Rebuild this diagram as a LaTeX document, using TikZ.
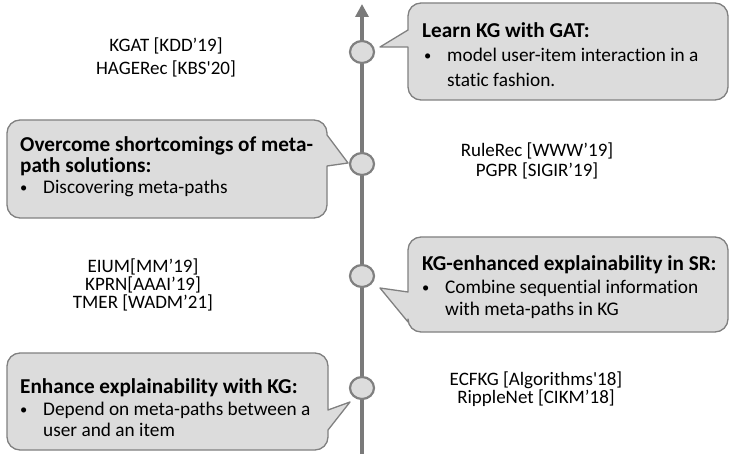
\documentclass[tikz,border=0pt]{standalone}
\usepackage{fontspec}
\setmainfont{Carlito}[Ligatures={NoCommon}]
\usetikzlibrary{arrows.meta,shapes.geometric}
\definecolor{boxfill}{HTML}{DCDCDC}
\definecolor{boxline}{HTML}{808080}
\definecolor{axisgray}{HTML}{7A7A7A}
\tikzset{
  callout/.style={draw=boxline, fill=boxfill, line width=1.3pt, line join=round},
  txt/.style={inner sep=0pt, font=\fontsize{19.3}{22}\selectfont},
  lft/.style={txt, anchor=base west},
  ctr/.style={inner sep=0pt, anchor=base, font=\fontsize{19}{22}\selectfont},
  ttl/.style={lft, font=\fontsize{21.2}{22}\selectfont\bfseries},
  dot/.style={ellipse, draw=boxline, fill=boxfill, line width=2.2pt, minimum width=24pt, minimum height=22pt, inner sep=0pt},
}
\newcommand{\bul}{\makebox[23pt][l]{\raisebox{1pt}{\scalebox{0.75}{\textbullet}}}}
\begin{document}
\begin{tikzpicture}[x=1pt,y=-1pt]
\useasboundingbox (0,0) rectangle (730,454);
% axis
\coordinate (abot) at (362,456);
\coordinate (atop) at (362,4);
\draw[axisgray, line width=3.6pt, -{Triangle[width=13pt,length=13pt]}] (abot) -- (atop);
% circles
\node[dot] (c1) at (362,52) {};
\node[dot] (c2) at (362,164) {};
\node[dot] (c3) at (362,276) {};
\node[dot] (c4) at (362,388) {};

% callout 1
\draw[callout] (408,47) [rounded corners=13pt] -- (408,100) -- (728,100) -- (728,3) -- (408,3) [sharp corners] -- (408,30) -- (380,47) -- cycle;
\node[ttl] (t1) at (422,38) {Learn KG with GAT:};
\node[lft] (t1a) at (424,62) {\bul model user-item interaction in a};
\node[lft] (t1b) at (447,87) {static fashion.};

% callout 2
\draw[callout] (327,166) [rounded corners=13pt] -- (327,218) -- (7,218) -- (7,120) -- (327,120) [sharp corners] -- (327,135) -- (348,163) -- cycle;
\node[ttl] (t2) at (20,152) {Overcome shortcomings of meta-};
\node[ttl] (t2b) at (20,173) {path solutions:};
\node[lft] (t2a) at (20,194) {\bul Discovering meta-paths};

% callout 3
\draw[callout] (408,322) [rounded corners=13pt] -- (408,332) -- (728,332) -- (728,237) -- (408,237) [sharp corners] -- (408,292) -- (380,288) -- cycle;
\node[ttl] (t3) at (422,270) {KG-enhanced explainability in SR:};
\node[lft] (t3a) at (422,293) {\bul Combine sequential information};
\node[lft] (t3b) at (445,315) {with meta-paths in KG};

% callout 4
\draw[callout] (328,430) [rounded corners=13pt] -- (328,450) -- (7,450) -- (7,353) -- (328,353) [sharp corners] -- (328,410) -- (350,402) -- cycle;
\node[ttl] (t4) at (20,393) {Enhance explainability with KG:};
\node[lft] (t4a) at (20,415) {\bul Depend on meta-paths between a};
\node[lft] (t4b) at (43,436) {user and an item};

% citations
\node[ctr] (r1a) at (166,52) {KGAT [KDD’19]};
\node[ctr] (r1b) at (166,75) {HAGERec [KBS\textquotesingle 20]};
\node[ctr] (r2a) at (537,157) {RuleRec [WWW’19]};
\node[ctr] (r2b) at (537,177) {PGPR [SIGIR’19]};
\node[ctr] (r3a) at (143,272) {EIUM[MM’19]};
\node[ctr] (r3b) at (143,290) {KPRN[AAAI’19]};
\node[ctr] (r3c) at (143,308) {TMER [WADM’21]};
\node[ctr] (r4a) at (536,385) {ECFKG [Algorithms\textquotesingle 18]};
\node[ctr] (r4b) at (536,403) {RippleNet [CIKM’18]};
\end{tikzpicture}
\end{document}
